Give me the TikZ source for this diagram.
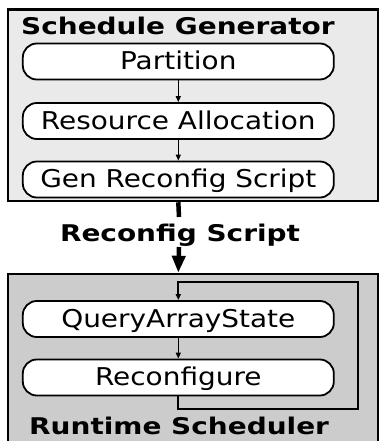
\documentclass[tikz,border=0pt]{standalone}
\usepackage{fontspec}
\newfontfamily\stepfont[FakeStretch=1.14]{DejaVu Sans}
\newfontfamily\headfont[FakeStretch=1.215]{DejaVu Sans Bold}
\usetikzlibrary{arrows.meta}
\definecolor{genfill}{HTML}{EAEAEA}
\definecolor{runfill}{HTML}{CCCCCC}
\begin{document}
\begin{tikzpicture}[x=1pt,y=-1pt,
  panel/.style={draw=black, line width=2.5pt, inner sep=0pt},
  stepbox/.style={draw=black, fill=white, line width=1.8pt, rounded corners=14pt,
    minimum width=311pt, minimum height=36pt, inner sep=0pt,
    text height=17.8pt, text depth=1.5pt,
    font=\stepfont\fontsize{24.5}{28}\selectfont},
  heading/.style={inner sep=0pt, anchor=base west, font=\headfont\fontsize{23}{27}\selectfont},
  flow/.style={line width=1.3pt, -{Triangle[length=6pt,width=5pt]}},
  loop/.style={line width=1.8pt, -{Triangle[length=6pt,width=5pt]}},
  bigflow/.style={line width=4.5pt},
]
\useasboundingbox (0,0) rectangle (380,441);

% Schedule generator panel
\node[panel, fill=genfill, minimum width=370pt, minimum height=191.5pt] (sg) at (193,105.25) {};
\node[heading] (sgt) at (21,35) {Schedule Generator};
\node[stepbox] (pt) at (178.3,61.5) {Partition};
\node[stepbox] (ra) at (178.3,121) {Resource Allocation};
\node[stepbox] (gs) at (178.3,179.5) {Gen Reconfig Script};
\draw[flow] (pt) -- (ra);
\draw[flow] (ra) -- (gs);

% Runtime scheduler panel
\node[panel, fill=runfill, minimum width=370pt, minimum height=180pt] (rt) at (193,364) {};
\node[stepbox] (qa) at (178.3,319) {QueryArrayState};
\node[stepbox] (rc) at (178.3,377.5) {Reconfigure};
\draw[flow] (qa) -- (rc);
\coordinate (loopbr) at (358,409);
\coordinate (looptr) at (358,282);
\draw[loop] (rc.south) |- (loopbr) -- (looptr) -| (qa.north);
\node[heading] (rtt) at (29,434) {Runtime Scheduler};

% Script handed from the generator to the scheduler
\node[inner sep=0pt, anchor=base, font=\headfont\fontsize{23}{27}\selectfont] (lbl) at (180,241) {Reconfig Script};
\coordinate (c1) at (179,217);
\coordinate (c2) at (179,247);
\draw[bigflow] (gs.south |- sg.south) -- (c1);
\draw[bigflow, -{Triangle[length=17pt,width=13pt]}] (c2) -- (gs.south |- rt.north);
\end{tikzpicture}
\end{document}
